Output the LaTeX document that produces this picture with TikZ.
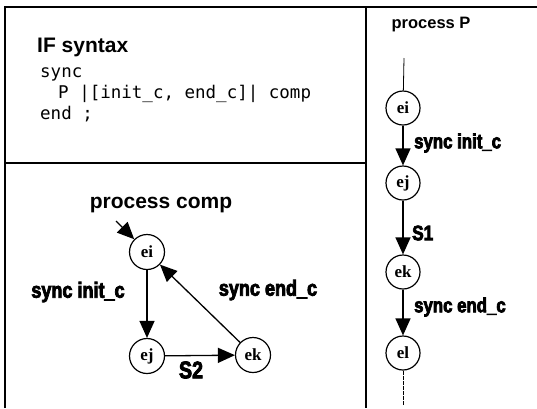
\documentclass[tikz,border=0pt]{standalone}
\usepackage{fontspec}
\setmainfont{Liberation Serif}
\newfontfamily\headfont{Liberation Sans}
\newfontfamily\codefont{DejaVu Sans Mono}
\newfontfamily\lblfont{Liberation Sans Bold}[FakeBold=3.5,FakeStretch=0.82]
\usetikzlibrary{arrows.meta}
\begin{document}
\begin{tikzpicture}[x=1pt,y=-1pt,
  state/.style={draw,circle,line width=1.2pt,minimum size=35pt,inner sep=0pt,font=\fontsize{17}{17}\selectfont\bfseries},
  edge/.style={line width=1.3pt,-{Triangle[length=17pt,width=15pt]}},
  frame/.style={line width=2pt},
  head/.style={font=\headfont\fontsize{21}{21}\selectfont\bfseries,inner sep=0pt},
  code/.style={font=\codefont\fontsize{17.5}{17.5}\selectfont,anchor=west,inner sep=0pt},
  lbl/.style={font=\lblfont\fontsize{22}{22}\selectfont,inner sep=0pt},
  lbls/.style={font=\lblfont\fontsize{20.5}{20.5}\selectfont,inner sep=0pt,anchor=west}]
\useasboundingbox (0,0) rectangle (537,408);
% frame
\coordinate (tl) at (5,7);
\coordinate (tr) at (537,7);
\coordinate (bl) at (5,408);
\coordinate (vt) at (366,7);
\coordinate (vb) at (366,408);
\coordinate (hl) at (5,163);
\coordinate (hr) at (366,163);
\draw[frame] (bl) -- (tl) -- (tr);
\draw[frame] (vt) -- (vb);
\draw[frame] (hl) -- (hr);
% IF syntax
\node[head,anchor=west] (ifs) at (37,47) {IF syntax};
\node[code] (c1) at (40,74) {sync};
\node[code] (c2) at (58,94) {P |[init\_c, end\_c]| comp};
\node[code] (c3) at (40,114) {end ;};
% process comp
\node[head] (pc) at (161,205) {process comp};
\node[state] (ei) at (147,252) {ei};
\node[state] (ej) at (147,356) {ej};
\node[state] (ek) at (253,355) {ek};
\coordinate (init) at (116,221);
\draw[edge] (init) -- (ei);
\draw[edge] (ei) -- (ej);
\draw[edge] (ej) -- (ek);
\draw[edge] (ek) -- (ei);
\node[lbl] (l1) at (78,292) {sync init\_c};
\node[lbl] (l2) at (268,290) {sync end\_c};
\node[lbl,font=\lblfont\fontsize{24}{24}\selectfont] (l3) at (191,370) {S2};
% process P
\node[head,font=\headfont\fontsize{16.5}{16.5}\selectfont\bfseries] (pp) at (431,25) {process P};
\node[state,minimum size=34pt] (pi) at (403,108) {ei};
\node[state,minimum size=34pt] (pj) at (403,183) {ej};
\node[state,minimum size=34pt] (pk) at (403,272) {ek};
\node[state,minimum size=34pt] (pl) at (403,353) {el};
\coordinate (ptop) at (404,58);
\coordinate (pbot) at (403,405);
\draw[line width=0.8pt] (ptop) -- (pi);
\draw[edge] (pi) -- (pj);
\draw[edge] (pj) -- (pk);
\draw[edge] (pk) -- (pl);
\draw[line width=0.8pt,dash pattern=on 4pt off 1pt] (pl) -- (pbot);
\node[lbls] (r1) at (414,143) {sync init\_c};
\node[lbls,font=\lblfont\fontsize{21}{21}\selectfont] (r2) at (412,233) {S1};
\node[lbls] (r3) at (414,307) {sync end\_c};
\end{tikzpicture}
\end{document}
